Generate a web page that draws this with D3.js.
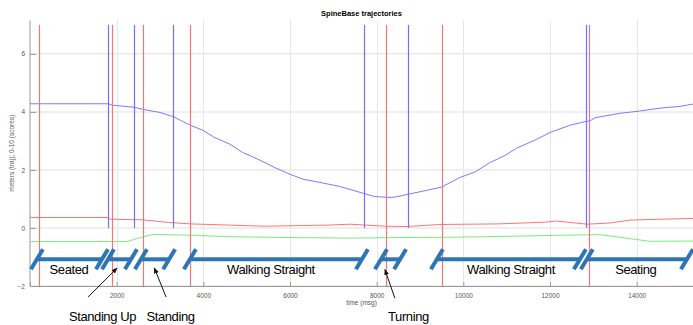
<!DOCTYPE html>
<html>
<head>
<meta charset="utf-8">
<script src="https://cdn.jsdelivr.net/npm/d3@7"></script>
<style>
  body { margin: 0; background: #fff; }
  svg { display: block; font-family: "Liberation Sans", Arial, sans-serif; }
</style>
</head>
<body>
<div id="chart"></div>
<script>
// SpineBase trajectories with activity phases overlay

// trajectory curves (time in ms, value in meters)
const blueT = [0, 1800, 1900, 2400, 2700, 3000, 3300, 3700, 4000, 4230, 4610, 4910, 5260, 5650, 6000, 6300, 6690, 7150, 7680, 7960, 8350, 8540, 8720, 9230, 9500, 9920, 10270, 10610, 10960, 11230, 11700, 12000, 12460, 12830, 12920, 13040, 13610, 14070, 14540, 15000, 15300];
const blueV = [4.28, 4.28, 4.23, 4.16, 4.06, 3.98, 3.84, 3.54, 3.36, 3.14, 2.89, 2.6, 2.37, 2.08, 1.85, 1.68, 1.57, 1.43, 1.2, 1.08, 1.05, 1.1, 1.16, 1.32, 1.41, 1.74, 1.93, 2.25, 2.5, 2.75, 3.06, 3.29, 3.54, 3.67, 3.69, 3.8, 3.95, 4.03, 4.13, 4.19, 4.27];

const redT = [0, 1800, 1850, 2600, 3200, 3700, 5000, 5400, 6900, 7380, 8200, 8700, 9450, 10800, 11900, 12150, 12600, 12850, 13380, 13840, 14530, 15300];
const redV = [0.36, 0.36, 0.3, 0.28, 0.19, 0.14, 0.08, 0.06, 0.1, 0.13, 0.06, 0.05, 0.12, 0.14, 0.2, 0.24, 0.17, 0.13, 0.17, 0.27, 0.3, 0.33];

const greenT = [0, 2240, 2500, 2840, 3700, 4600, 6000, 7380, 8540, 9690, 11300, 12230, 13150, 13610, 14300, 15300];
const greenV = [-0.47, -0.47, -0.35, -0.22, -0.25, -0.3, -0.33, -0.35, -0.33, -0.32, -0.28, -0.25, -0.23, -0.32, -0.46, -0.45];

// event markers
const redEvents = [200, 1900, 2607, 3700, 8205, 9504, 12910];
const blueEvents = [1807, 2407, 3307, 7700, 8713, 12820];

// activity phases [start, end] and labels
const phaseStart = [160, 1800, 2560, 3690, 8100, 9390, 12850];
const phaseEnd = [1660, 2330, 3210, 7660, 8540, 12690, 15160];
const phaseLabels = ["Seated", "", "", "Walking Straight", "", "Walking Straight", "Seating"];
const phaseLabelT = [900, 0, 0, 5560, 0, 11100, 13980];

// callouts: label, text position, arrow tip
const calloutLabels = ["Standing Up", "Standing", "Turning"];
const calloutTextT = [1673, 3242, 8733];
const calloutFromT = [1340, 3140, 8420];
const calloutFromV = [-2.38, -2.38, -2.42];
const calloutToT = [2010, 2870, 8190];
const calloutToV = [-1.38, -1.38, -1.43];

const xTicks = [2000, 4000, 6000, 8000, 10000, 12000, 14000];
const yTicks = [-2, 0, 2, 4, 6];

const width = 693, height = 325;
const svg = d3.select("#chart").append("svg")
  .attr("width", width)
  .attr("height", height);

const x = d3.scaleLinear().domain([0, 15300]).range([30, 693]);
const y = d3.scaleLinear().domain([-2, 7.15]).range([286, 20.5]);
const px = t => Math.round(x(t)) + 0.5;

// grid
svg.append("g").selectAll("line")
  .data(xTicks).join("line")
  .attr("x1", d => px(d)).attr("x2", d => px(d))
  .attr("y1", y.range()[1]).attr("y2", y.range()[0])
  .attr("stroke", "#e6e6e6").attr("stroke-width", 1);

svg.append("g").selectAll("line")
  .data(yTicks).join("line")
  .attr("x1", x.range()[0]).attr("x2", x.range()[1])
  .attr("y1", d => y(d)).attr("y2", d => y(d))
  .attr("stroke", "#eaeaea").attr("stroke-width", 1.5);

// axes
const xAxis = svg.append("g")
  .attr("transform", `translate(0 ${y(-2)})`)
  .call(d3.axisBottom(x).tickValues(xTicks).tickFormat(d3.format("d")).tickSize(-4).tickPadding(7));
const yAxis = svg.append("g")
  .attr("transform", `translate(${x(0)} 0)`)
  .call(d3.axisLeft(y).tickValues(yTicks).tickSize(-6).tickPadding(5));

[xAxis, yAxis].forEach(a => {
  a.select(".domain").attr("stroke", "#999");
  a.selectAll(".tick line").attr("stroke", "#999");
  a.selectAll(".tick text").attr("fill", "#555").style("font-size", "6.5px");
});
yAxis.select(".domain").attr("d", `M0,${y.range()[0]}V${y.range()[1]}`);

// curves
const line = d3.line().x(d => x(d[0])).y(d => y(d[1]));
const curves = [
  { t: blueT, v: blueV, color: "#7b7bff" },
  { t: redT, v: redV, color: "#ff7373" },
  { t: greenT, v: greenV, color: "#7deb7d" }
];
curves.forEach(c => {
  svg.append("path")
    .datum(d3.zip(c.t, c.v))
    .attr("d", line)
    .attr("fill", "none")
    .attr("stroke", c.color)
    .attr("stroke-width", 1);
});

// event markers
svg.append("g").selectAll("line")
  .data(blueEvents).join("line")
  .attr("x1", d => px(d)).attr("x2", d => px(d))
  .attr("y1", y(7)).attr("y2", y(0))
  .attr("stroke", "#7272ee").attr("stroke-width", 1.2);

svg.append("g").selectAll("line")
  .data(redEvents).join("line")
  .attr("x1", d => px(d)).attr("x2", d => px(d))
  .attr("y1", y(7)).attr("y2", y(-2))
  .attr("stroke", "#ef7777").attr("stroke-width", 1.2);

// phase bars with slashed ends
const barV = -1.08;
const blueBar = "#2e75b6";
const phases = svg.append("g");
const slash = (g, t) => g.append("line")
  .attr("x1", x(t) - 6).attr("y1", y(barV) + 10)
  .attr("x2", x(t) + 6).attr("y2", y(barV) - 10)
  .attr("stroke", blueBar).attr("stroke-width", 4);

phaseStart.forEach((s, i) => {
  const e = phaseEnd[i];
  phases.append("line")
    .attr("x1", x(s)).attr("x2", x(e))
    .attr("y1", y(barV)).attr("y2", y(barV))
    .attr("stroke", blueBar).attr("stroke-width", 4);
  slash(phases, s);
  slash(phases, e);
  if (phaseLabels[i]) {
    phases.append("text")
      .attr("x", x(phaseLabelT[i]))
      .attr("y", y(-1.42) + 5)
      .attr("text-anchor", "middle")
      .style("font-size", "13px")
      .style("letter-spacing", "-0.4px")
      .text(phaseLabels[i]);
  }
});

// callouts
svg.append("defs").append("marker")
  .attr("id", "arrow")
  .attr("viewBox", "0 0 10 10")
  .attr("refX", 9).attr("refY", 5)
  .attr("markerWidth", 6).attr("markerHeight", 6)
  .attr("orient", "auto")
  .append("path").attr("d", "M0,1L10,5L0,9Z").attr("fill", "#111");

calloutLabels.forEach((lab, i) => {
  svg.append("line")
    .attr("x1", x(calloutFromT[i])).attr("y1", y(calloutFromV[i]))
    .attr("x2", x(calloutToT[i])).attr("y2", y(calloutToV[i]))
    .attr("stroke", "#111").attr("stroke-width", 1)
    .attr("marker-end", "url(#arrow)");
  svg.append("text")
    .attr("x", x(calloutTextT[i]))
    .attr("y", 321)
    .attr("text-anchor", "middle")
    .style("font-size", "13px")
    .style("letter-spacing", "-0.4px")
    .text(lab);
});

// titles
svg.append("text")
  .attr("x", (x.range()[0] + x.range()[1]) / 2)
  .attr("y", 16)
  .attr("text-anchor", "middle")
  .style("font-size", "7.5px")
  .style("font-weight", "bold")
  .text("SpineBase trajectories");

svg.append("text")
  .attr("x", (x.range()[0] + x.range()[1]) / 2)
  .attr("y", 305)
  .attr("text-anchor", "middle")
  .attr("fill", "#555")
  .style("font-size", "6.5px")
  .text("time (msg)");

svg.append("text")
  .attr("transform", `translate(14 ${(y.range()[0] + y.range()[1]) / 2}) rotate(-90)`)
  .attr("text-anchor", "middle")
  .attr("fill", "#555")
  .style("font-size", "6.5px")
  .text("meters (traj); 0-10 (scores)");
</script>
</body>
</html>
